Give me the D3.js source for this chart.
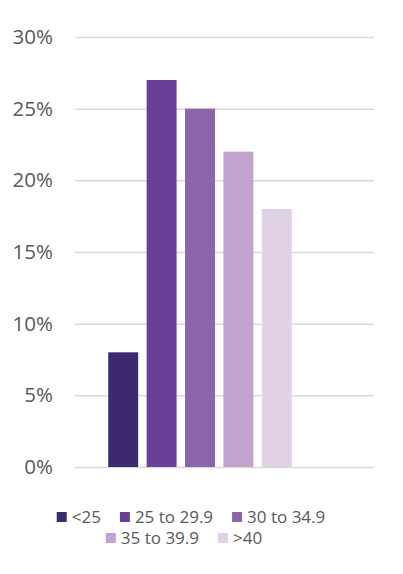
<!DOCTYPE html>
<html>
<head>
<meta charset="utf-8">
<script src="https://cdn.jsdelivr.net/npm/d3@7"></script>
<style>
  body { margin: 0; background: #fff; }
  text { font-family: "Open Sans", Lato, sans-serif; fill: #595959; }
</style>
</head>
<body>
<svg id="chart" width="403" height="574"></svg>
<script>
// series names (BMI groups) and their shares
const groups = ["<25", "25 to 29.9", "30 to 34.9", "35 to 39.9", ">40"];
const shares = [8, 27, 25, 22, 18];
const colors = ["#3d2a6e", "#6b3f98", "#8c65ab", "#c1a3ce", "#e0d1e6"];
const ticks = [0, 5, 10, 15, 20, 25, 30];

const svg = d3.select("#chart");

// plot area
const plotL = 75, plotR = 374, plotT = 37, plotB = 467;

const y = d3.scaleLinear().domain([0, 30]).range([plotB, plotT]);
const x = d3.scaleBand().domain(groups)
    .range([104, 296]).paddingInner(0.22).paddingOuter(0.11);

// gridlines + tick labels
const yAxis = svg.append("g")
    .attr("transform", `translate(${plotL},0)`)
    .call(d3.axisLeft(y).tickValues(ticks).tickSize(-(plotR - plotL))
        .tickPadding(22).tickFormat(d => d + "%"));
yAxis.select(".domain").remove();
yAxis.selectAll(".tick line").attr("stroke", "#d9d9d9").attr("stroke-width", 1.5);
yAxis.selectAll(".tick text").attr("font-size", 20.5).attr("fill", "#595959")
    .attr("font-family", "'Open Sans', Lato, sans-serif");

// bars
svg.append("g").selectAll("rect")
    .data(groups)
    .join("rect")
    .attr("x", d => x(d))
    .attr("width", x.bandwidth())
    .attr("y", (d, i) => y(shares[i]))
    .attr("height", (d, i) => plotB - y(shares[i]))
    .attr("fill", (d, i) => colors[i]);

// legend, two centered rows
const rows = [[0, 1, 2], [3, 4]];
const rowY = [517, 538];
const rowCenter = [191, 184];
const legend = svg.append("g");
rows.forEach((row, r) => {
    const g = legend.append("g");
    let cx = 0;
    row.forEach(i => {
        const item = g.append("g").attr("transform", `translate(${cx},0)`);
        item.append("rect").attr("x", 0).attr("y", rowY[r] - 5)
            .attr("width", 10).attr("height", 10).attr("fill", colors[i]);
        const t = item.append("text").attr("x", 15).attr("y", rowY[r] + 6)
            .attr("font-size", 17).text(groups[i]);
        cx += 15 + t.node().getComputedTextLength() + 19;
    });
    const w = cx - 19;
    g.attr("transform", `translate(${rowCenter[r] - w / 2},0)`);
});
</script>
</body>
</html>
